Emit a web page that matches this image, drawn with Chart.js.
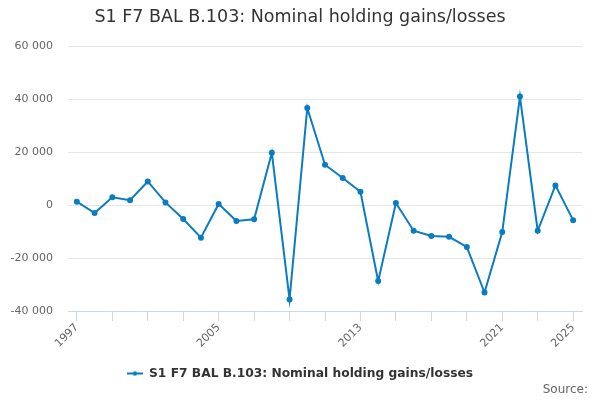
<!DOCTYPE html>
<html>
<head>
<meta charset="utf-8">
<script src="https://cdn.jsdelivr.net/npm/chart.js@4.4.1/dist/chart.umd.min.js"></script>
<style>
html,body{margin:0;padding:0;background:#fff;}
#wrap{width:600px;height:400px;position:relative;}
</style>
</head>
<body>
<div id="wrap"><canvas id="c"></canvas></div>
<script>
const titleText = "S1 F7 BAL B.103: Nominal holding gains/losses";
const seriesName = "S1 F7 BAL B.103: Nominal holding gains/losses";
const sourceText = "Source:";
const years = ["1997","1998","1999","2000","2001","2002","2003","2004","2005","2006","2007","2008","2009","2010","2011","2012","2013","2014","2015","2016","2017","2018","2019","2020","2021","2022","2023","2024","2025"];
const values = [1250,-3000,2900,1800,8900,1000,-5300,-12300,400,-6000,-5400,19700,-35600,36600,15200,10200,5000,-28700,750,-9700,-11700,-12000,-15800,-33000,-10200,40900,-9700,7400,-5700];
const shownYearLabels = ["1997","2005","2013","2021","2025"];
const yTicks = [-40000,-20000,0,20000,40000,60000];

const lineColor = '#0a7cc1';
const font = "'DejaVu Sans', sans-serif";

function fmt(v){
  const s = Math.abs(v).toString().replace(/\B(?=(\d{3})+(?!\d))/g, ' ');
  return (v < 0 ? '-' : '') + s;
}

// legend marker: short line with a dot
const marker = document.createElement('canvas');
marker.width = 16; marker.height = 6;
(function(){
  const m = marker.getContext('2d');
  m.strokeStyle = lineColor; m.lineWidth = 2;
  m.beginPath(); m.moveTo(0,3); m.lineTo(16,3); m.stroke();
  m.fillStyle = lineColor; m.beginPath(); m.arc(8,3,2.2,0,Math.PI*2); m.fill();
})();

const sourceShift = {
  id: 'sourceShift',
  afterLayout(chart) {
    chart.boxes.forEach(b => {
      if (b.options && b.options.text === sourceText) { b.right = chart.width - 12; }
    });
  }
};

new Chart(document.getElementById('c'), {
  type: 'line',
  plugins: [sourceShift],
  data: {
    labels: years,
    datasets: [{
      label: seriesName,
      data: values,
      borderColor: lineColor,
      backgroundColor: lineColor,
      borderWidth: 2,
      pointRadius: 2,
      pointHoverRadius: 3,
      tension: 0,
      fill: false
    }]
  },
  options: {
    responsive: true,
    maintainAspectRatio: false,
    animation: false,
    layout: { padding: { left: 0, right: 0, top: 0, bottom: 0 } },
    plugins: {
      title: {
        display: true,
        text: titleText,
        color: '#333333',
        font: { family: font, size: 17.5, weight: 'normal' },
        padding: { top: 7, bottom: 18 }
      },
      subtitle: {
        display: true,
        text: sourceText,
        position: 'bottom',
        align: 'end',
        color: '#666666',
        font: { family: font, size: 12, weight: 'normal' },
        padding: { top: -7, bottom: 3 }
      },
      legend: {
        display: true,
        position: 'bottom',
        labels: {
          color: '#333333',
          font: { family: font, size: 12.25, weight: 'bold' },
          usePointStyle: true,
          pointStyleWidth: 16,
          padding: 8,
          generateLabels: (chart) => chart.data.datasets.map((ds, i) => ({
            text: ds.label,
            pointStyle: marker,
            fillStyle: lineColor,
            strokeStyle: lineColor,
            lineWidth: 0,
            fontColor: '#333333',
            datasetIndex: i,
            hidden: false
          }))
        }
      },
      tooltip: { enabled: false }
    },
    scales: {
      x: {
        type: 'category',
        offset: true,
        afterFit: (s) => { s.height = 48.3; },
        border: { display: true, color: '#ccd6eb', width: 1 },
        grid: {
          drawOnChartArea: false,
          drawTicks: true,
          tickLength: 10,
          tickColor: (ctx) => (ctx.index % 2 === 0 ? '#ccd6eb' : 'rgba(0,0,0,0)'),
          offset: false
        },
        ticks: {
          autoSkip: false,
          maxRotation: 45,
          minRotation: 45,
          padding: 0,
          color: '#666666',
          font: { family: font, size: 11 },
          callback: function(val, idx) {
            const lab = this.getLabelForValue(val);
            return shownYearLabels.includes(lab) ? lab : '';
          }
        }
      },
      y: {
        min: -40000,
        max: 60000,
        afterFit: (s) => { s.width = 68; },
        afterBuildTicks: (s) => { s.ticks = yTicks.map(v => ({ value: v })); },
        border: { display: false },
        grid: { color: '#e6e6e6', drawTicks: false, lineWidth: 1 },
        ticks: {
          padding: 15,
          color: '#666666',
          font: { family: font, size: 11 },
          callback: (v) => fmt(v)
        }
      },
      yRight: {
        type: 'linear',
        position: 'right',
        display: true,
        afterFit: (s) => { s.width = 18; },
        border: { display: false },
        grid: { display: false, drawTicks: false },
        ticks: { display: false }
      }
    }
  }
});
</script>
</body>
</html>
